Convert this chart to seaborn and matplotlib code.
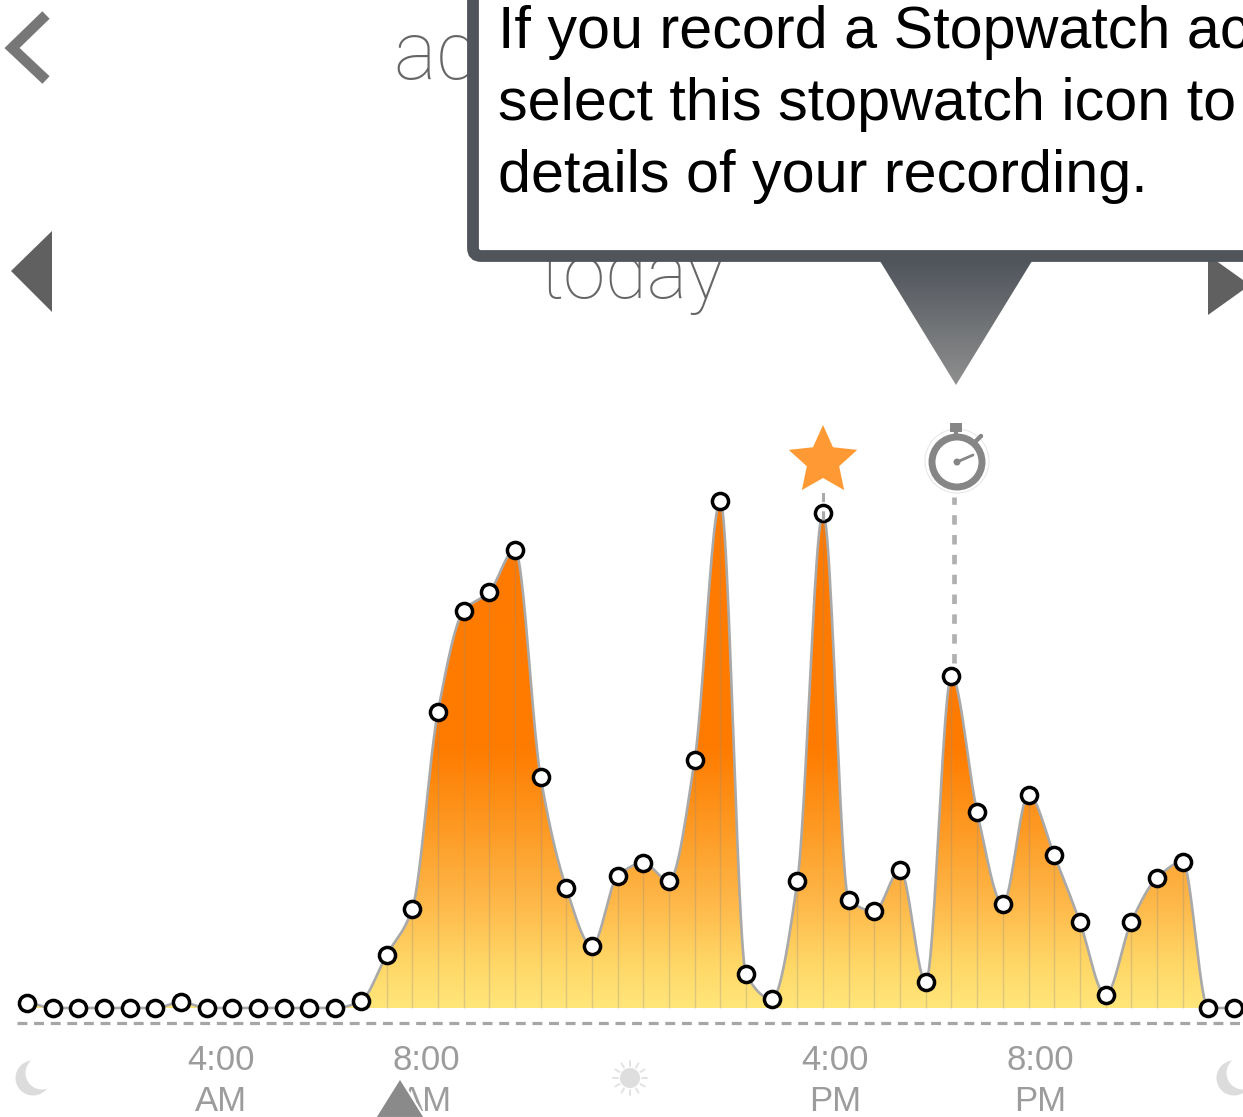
import numpy as np
import pandas as pd
import matplotlib
matplotlib.use('Agg')
import matplotlib.pyplot as plt
import seaborn as sns
from matplotlib.colors import LinearSegmentedColormap
from matplotlib.patches import Polygon, FancyBboxPatch, Circle, Rectangle

# half hour slots across the day, height of each reading
slots = list(range(48))
activity = [5, 0, 0, 0, 0, 0, 6, 0, 0, 0, 0, 0, 0, 7, 53, 99, 296, 397, 416, 458,
            231, 120, 62, 132, 145, 127, 248, 507, 34, 9, 127, 495, 108, 97, 138,
            26, 332, 196, 104, 213, 153, 86, 13, 86, 130, 146, 0, 0]
tick_labels = ['4:00\nAM', '8:00\nAM', '4:00\nPM', '8:00\nPM']
callout_lines = ['If you record a Stopwatch ac',
                 'select this stopwatch icon to',
                 'details of your recording.']

W, H = 1243, 1117
PX = 1 / 100
GREY_TXT = '#9c9c9c'
FONT = 'Liberation Sans'
THIN = 'Roboto'

sns.set_theme(style='white')
plt.rcParams['font.family'] = [FONT, 'DejaVu Sans']


def monotone(x, y, n=24):
    # monotone cubic so the curve never overshoots the readings
    x = np.asarray(x, float)
    y = np.asarray(y, float)
    d = np.diff(y) / np.diff(x)
    m = np.zeros(len(y))
    for i in range(1, len(y) - 1):
        if d[i - 1] * d[i] > 0:
            m[i] = 2 * d[i - 1] * d[i] / (d[i - 1] + d[i])
    xs, ys = [], []
    for i in range(len(x) - 1):
        t = np.linspace(0, 1, n, endpoint=False)
        h00 = 2 * t**3 - 3 * t**2 + 1
        h10 = t**3 - 2 * t**2 + t
        h01 = -2 * t**3 + 3 * t**2
        h11 = t**3 - t**2
        xs.append(x[i] + t)
        ys.append(h00 * y[i] + h10 * m[i] + h01 * y[i + 1] + h11 * m[i + 1])
    return np.append(np.concatenate(xs), x[-1]), np.append(np.concatenate(ys), y[-1])


df = pd.DataFrame({'slot': slots, 'activity': activity})
cx, cy = monotone(slots, activity)
curve = pd.DataFrame({'slot': cx, 'activity': cy})

fig = plt.figure(figsize=(W * PX, H * PX), dpi=100, facecolor='white')

# chart axes: slot 0 sits at 27px, one slot is 25.68px, zero at 1008px
ax = fig.add_axes([0, 0, 1, 1], zorder=1)
ax.set_xlim(-27 / 25.68, (W - 27) / 25.68)
ax.set_ylim(1008 - H, 1008)
ax.axis('off')

grad = LinearSegmentedColormap.from_list('act', [(0, '#ffe67a'), (0.083, '#ffd767'), (0.206, '#feb748'),
                                                 (0.344, '#fd9a24'), (0.496, '#ff7c00'), (1, '#ff7a00')])
im = ax.imshow(np.linspace(1, 0, 256).reshape(-1, 1), cmap=grad, aspect='auto', vmin=0, vmax=1,
               extent=(-2, 50, 0, 520), zorder=1)
poly = Polygon(np.column_stack([np.r_[cx[0], cx, cx[-1]], np.r_[0, np.maximum(cy, 0), 0]]),
               transform=ax.transData, fc='none', ec='none')
ax.add_patch(poly)
im.set_clip_path(poly)
ax.set_xlim(-27 / 25.68, (W - 27) / 25.68)
ax.set_ylim(1008 - H, 1008)

ax.vlines(slots, 0, activity, color='#8a8a8a', alpha=0.3, lw=1.0, zorder=2)
sns.lineplot(data=curve, x='slot', y='activity', ax=ax, color='#a9a9a9', lw=1.9, zorder=3)
ax.axhline(-15, xmin=17 / W, color='#a6a6a6', lw=2.3, dashes=(3.1, 2.1), zorder=2)

# dashed leaders to star and stopwatch
ax.plot([31, 31], [488, 518], color='#aaaaaa', lw=2.2, dashes=(3, 3), zorder=5)
ax.plot([36.1, 36.1], [345, 511], color='#b0b0b0', lw=3.4, dashes=(2.0, 2.2), zorder=2)

sns.scatterplot(data=df, x='slot', y='activity', ax=ax, s=135, color='white', edgecolor='black',
                linewidth=2.5, zorder=4, clip_on=False)
ax.set_xlabel('')
ax.set_ylabel('')

# everything around the chart is laid out in pixels, y going down
ui = fig.add_axes([0, 0, 1, 1], zorder=2)
ui.set_xlim(0, W)
ui.set_ylim(H, 0)
ui.axis('off')
ui.patch.set_alpha(0)

for x, lab in zip([221, 426, 835, 1040], tick_labels):
    top, bot = lab.split('\n')
    ui.text(x, 1070, top, ha='center', va='baseline', fontsize=25, color=GREY_TXT)
    ui.text(x, 1111, bot, ha='center', va='baseline', fontsize=25, color=GREY_TXT)


def moon(x, y):
    ui.add_patch(Circle((x, y), 17.5, fc='#dcdcdc', ec='none', zorder=2))
    ui.add_patch(Circle((x + 9, y - 5), 16.5, fc='white', ec='none', zorder=2))


moon(33, 1078)
moon(1234, 1078)
ui.add_patch(Circle((630, 1078), 10, fc='#dedede', ec='none'))
for a in np.arange(0, 2 * np.pi, np.pi / 6):
    ui.plot([630 + 12 * np.cos(a), 630 + 17 * np.cos(a)],
            [1078 + 12 * np.sin(a), 1078 + 17 * np.sin(a)], color='#e2e2e2', lw=1.4)

ui.add_patch(Polygon([(400, 1078), (375, 1118), (425, 1118)], fc='#8a8a8a', ec='white', lw=1.5, zorder=3))

# top bar shapes
ui.plot([46, 12, 46], [15, 48, 80], color='#777777', lw=7.5, solid_joinstyle='miter', solid_capstyle='butt')
ui.add_patch(Polygon([(52, 231), (52, 312), (11, 271)], fc='#606060', ec='none'))
ui.add_patch(Polygon([(1208, 255), (1208, 315), (1250, 285)], fc='#606060', ec='none'))
ui.text(393, 79, 'ad', fontsize=58, color='#666666', va='baseline', ha='left', family=THIN, weight='light')
ui.text(540, 298, 'today', fontsize=55, color='#666666', va='baseline', ha='left', family=THIN, weight='light')

# callout
ui.add_patch(FancyBboxPatch((473, -60), 900, 316, boxstyle='round,pad=0,rounding_size=8',
                            fc='white', ec='#50555c', lw=8.5, zorder=5))
for y, line in zip([48, 120, 192], callout_lines):
    ui.text(498, y, line, fontsize=42.7, color='black', va='baseline', ha='left', zorder=6)
tri = Polygon([(880, 261), (1032, 261), (956, 385)], transform=ui.transData, fc='none', ec='none')
ui.add_patch(tri)
tri_cmap = LinearSegmentedColormap.from_list('tri', ['#50555c', '#8f8f8f'])
ti = ui.imshow(np.linspace(0, 1, 128).reshape(-1, 1), cmap=tri_cmap, aspect='auto',
               extent=(870, 1040, 385, 261), zorder=5)
ti.set_clip_path(tri)
ui.set_xlim(0, W)
ui.set_ylim(H, 0)

# star and stopwatch icons
ang = np.arange(10) * np.pi / 5 - np.pi / 2
rad = np.where(np.arange(10) % 2 == 0, 36, 17)
ui.add_patch(Polygon(np.column_stack([823 + rad * np.cos(ang), 461 + rad * np.sin(ang)]),
                     fc='#ff9933', ec='none', zorder=5))
ui.add_patch(Circle((957, 461), 32, fc='white', ec='#e8e8e8', lw=0.8, zorder=4))
ui.add_patch(Circle((957, 462), 25, fc='white', ec='#868686', lw=5, zorder=5))
ui.plot([956, 956], [428, 438], color='#868686', lw=3, zorder=5)
ui.add_patch(Rectangle((950, 423), 12, 9, fc='#868686', ec='none', zorder=5))
ui.plot([974, 981], [443, 436], color='#868686', lw=3.2, zorder=5)
ui.plot([957, 973], [462, 455], color='#868686', lw=2, zorder=6)
ui.add_patch(Circle((957, 462), 3.5, fc='#868686', ec='none', zorder=6))

plt.savefig('out.png', dpi=100, facecolor='white')
